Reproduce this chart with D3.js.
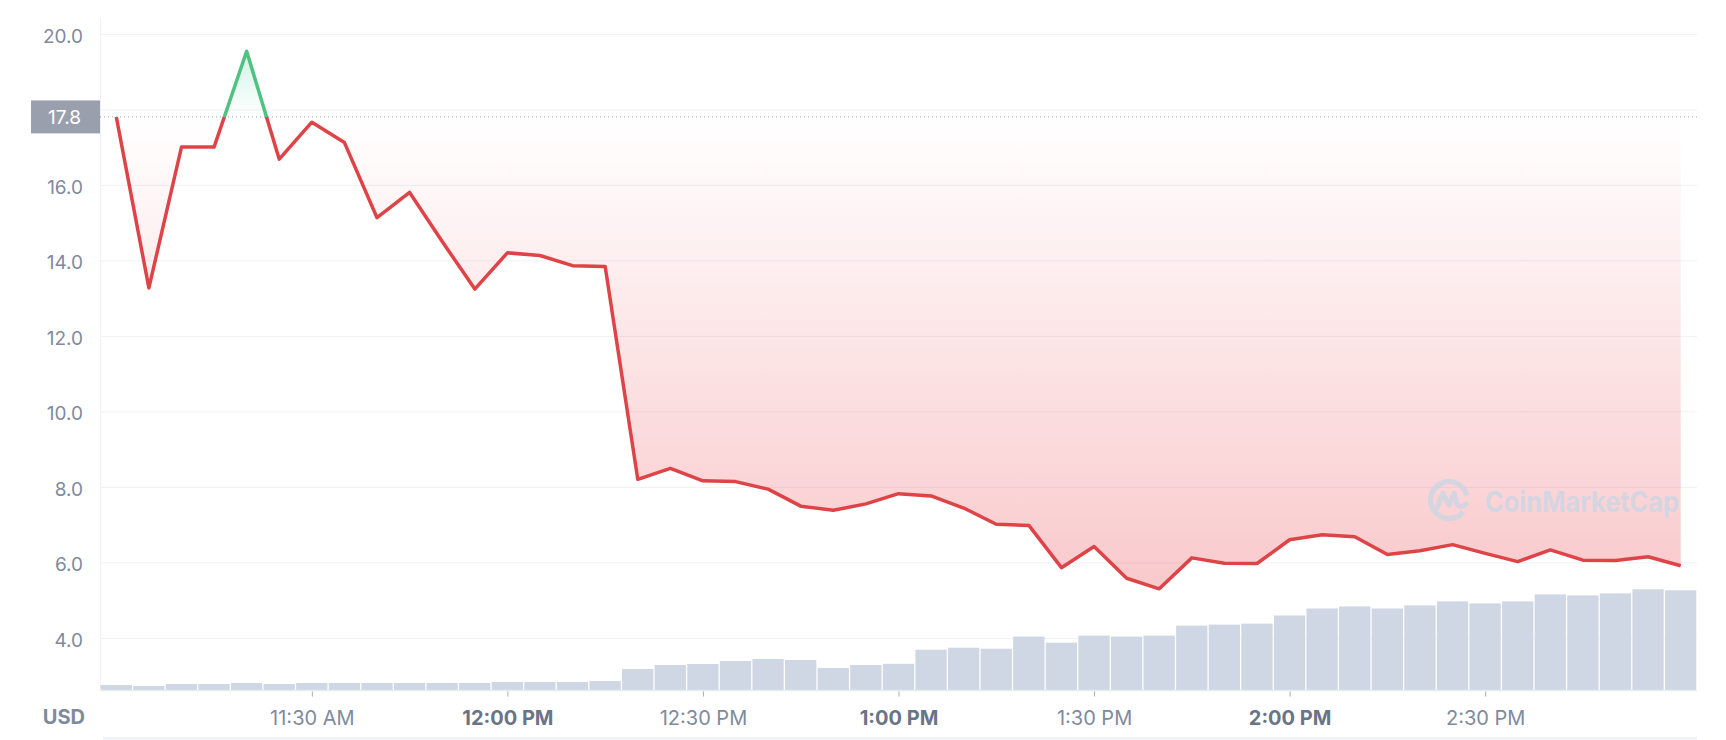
<!DOCTYPE html>
<html>
<head>
<meta charset="utf-8">
<script src="https://cdn.jsdelivr.net/npm/d3@7"></script>
<style>
  html, body { margin: 0; padding: 0; background: #ffffff; }
  svg { display: block; font-family: Inter, "Noto Sans", sans-serif; }
</style>
</head>
<body>
<svg id="chart" width="1726" height="740"></svg>
<script>
// ---------- DATA ----------
const times = ["11:00","11:05","11:10","11:15","11:20","11:25","11:30","11:35","11:40","11:45",
  "11:50","11:55","12:00","12:05","12:10","12:15","12:20","12:25","12:30","12:35",
  "12:40","12:45","12:50","12:55","13:00","13:05","13:10","13:15","13:20","13:25",
  "13:30","13:35","13:40","13:45","13:50","13:55","14:00","14:05","14:10","14:15",
  "14:20","14:25","14:30","14:35","14:40","14:45","14:50","14:55","15:00"];
const prices = [17.8, 13.27, 17.0, 17.0, 19.54, 16.68, 17.66, 17.12, 15.13, 15.80,
  14.5, 13.24, 14.20, 14.13, 13.86, 13.84, 8.20, 8.49, 8.16, 8.14,
  7.94, 7.49, 7.38, 7.55, 7.82, 7.76, 7.44, 7.01, 6.98, 5.86,
  6.42, 5.58, 5.30, 6.12, 5.98, 5.97, 6.60, 6.73, 6.68, 6.21,
  6.31, 6.47, 6.24, 6.02, 6.33, 6.06, 6.05, 6.15, 5.91];
const volumes = [5, 4, 6, 6, 7, 6, 7, 7, 7, 7,
  7, 7, 8, 8, 8, 9, 21, 25, 26, 29,
  31, 30, 22, 25, 26.2, 40.3, 42.3, 41.3, 53.4, 47.3,
  54.4, 53.4, 54.4, 64.4, 65.4, 66.4, 74.5, 81.5, 83.6, 81.5,
  84.6, 88.6, 86.6, 88.6, 95.6, 94.6, 96.6, 100.7, 99.7];
const baselinePrice = 17.8;
const yGridValues = [4, 6, 8, 10, 12, 14, 16, 18, 20];
const yLabelValues = [4, 6, 8, 10, 12, 14, 16, 20];   // 18.0 is covered by the baseline tag
const xTickTimes = ["11:30","12:00","12:30","13:00","13:30","14:00","14:30"];
const xTickLabels = ["11:30 AM","12:00 PM","12:30 PM","1:00 PM","1:30 PM","2:00 PM","2:30 PM"];
const xTickBold = [false, true, false, true, false, true, false];
const currencyLabel = "USD";
const watermarkText = "CoinMarketCap";

// ---------- LAYOUT ----------
const plotLeft = 100, plotRight = 1697, plotTop = 18, plotBottom = 690;
const parseT = d3.timeParse("%H:%M");
const data = times.map((t, i) => ({ t: parseT(t), p: prices[i], v: volumes[i] }));

const x = d3.scaleTime()
  .domain([d3.timeSecond.offset(parseT("11:00"), -150), d3.timeSecond.offset(parseT("15:00"), 150)])
  .range([plotLeft, plotRight]);
const y = d3.scaleLinear().domain([2.62, 20.42]).range([plotBottom, plotTop]);
const yVol = d3.scaleLinear().domain([0, 100]).range([plotBottom, plotBottom - 100]);

const svg = d3.select("#chart");
const defs = svg.append("defs");
const yBase = y(baselinePrice);

// gradients
const gRed = defs.append("linearGradient").attr("id", "gRed")
  .attr("gradientUnits", "userSpaceOnUse").attr("x1", 0).attr("x2", 0)
  .attr("y1", yBase).attr("y2", plotBottom);
gRed.append("stop").attr("offset", 0).attr("stop-color", "#ea3943").attr("stop-opacity", 0.0);
gRed.append("stop").attr("offset", 1).attr("stop-color", "#ea3943").attr("stop-opacity", 0.33);

const gGreen = defs.append("linearGradient").attr("id", "gGreen")
  .attr("gradientUnits", "userSpaceOnUse").attr("x1", 0).attr("x2", 0)
  .attr("y1", yBase).attr("y2", plotTop);
gGreen.append("stop").attr("offset", 0).attr("stop-color", "#16c784").attr("stop-opacity", 0.0);
gGreen.append("stop").attr("offset", 1).attr("stop-color", "#16c784").attr("stop-opacity", 0.3);

defs.append("clipPath").attr("id", "clipAbove").append("rect")
  .attr("x", 0).attr("y", 0).attr("width", 1726).attr("height", yBase);
defs.append("clipPath").attr("id", "clipBelow").append("rect")
  .attr("x", 0).attr("y", yBase).attr("width", 1726).attr("height", 740 - yBase);

// ---------- Y GRID + LABELS ----------
const yGrid = d3.axisLeft(y).tickValues(yGridValues).tickFormat("")
  .tickSize(-(plotRight - plotLeft));
const gg = svg.append("g").attr("transform", `translate(${plotLeft},0)`).call(yGrid);
gg.select(".domain").remove();
gg.selectAll(".tick line").attr("stroke", "#eff1f5").attr("stroke-width", 1);

const yAxis = d3.axisLeft(y).tickValues(yLabelValues).tickFormat(d3.format(".1f"))
  .tickSize(0).tickPadding(17);
const gy = svg.append("g").attr("transform", `translate(${plotLeft},0)`).call(yAxis);
gy.select(".domain").remove();
gy.selectAll(".tick text").attr("fill", "#808a9d").attr("font-size", 19)
  .attr("font-family", "Inter, sans-serif").attr("dy", "0.45em");

// left axis line
svg.append("line").attr("x1", plotLeft + 0.5).attr("x2", plotLeft + 0.5)
  .attr("y1", plotTop).attr("y2", plotBottom).attr("stroke", "#eef0f4");

// ---------- VOLUME BARS ----------
const step = x(parseT("11:05")) - x(parseT("11:00"));
svg.append("g").selectAll("rect").data(data).join("rect")
  .attr("x", d => x(d.t) - step / 2 + 0.6)
  .attr("width", step - 1.3)
  .attr("y", d => yVol(d.v))
  .attr("height", d => yVol(0) - yVol(d.v))
  .attr("fill", "#cfd6e4");

// ---------- AREA + LINE ----------
const area = d3.area().x(d => x(d.t)).y0(yBase).y1(d => y(d.p));
const line = d3.line().x(d => x(d.t)).y(d => y(d.p));

svg.append("path").datum(data).attr("d", area).attr("fill", "url(#gRed)").attr("clip-path", "url(#clipBelow)");
svg.append("path").datum(data).attr("d", area).attr("fill", "url(#gGreen)").attr("clip-path", "url(#clipAbove)");

// ---------- WATERMARK ----------
const wm = svg.append("g").attr("opacity", 0.85);
const cx = 1449, cy = 500, r = 18.5;
wm.append("path")
  .attr("d", d3.arc()({ innerRadius: r - 2.6, outerRadius: r + 2.6, startAngle: Math.PI * 0.72, endAngle: Math.PI * 2.42 }))
  .attr("transform", `translate(${cx},${cy})`)
  .attr("fill", "#cfd6e4");
wm.append("path")
  .attr("d", `M${cx - 12},${cy + 8} L${cx - 6},${cy - 7} L${cx},${cy + 5} L${cx + 5},${cy - 7} L${cx + 8},${cy + 4} Q${cx + 11},${cy + 9} ${cx + 17},${cy + 4}`)
  .attr("fill", "none").attr("stroke", "#cfd6e4").attr("stroke-width", 5)
  .attr("stroke-linejoin", "round").attr("stroke-linecap", "round");
wm.append("text").attr("x", 1485).attr("y", 512)
  .attr("font-size", 28).attr("font-weight", 700).attr("fill", "#cfd6e4")
  .attr("textLength", 194).attr("lengthAdjust", "spacingAndGlyphs")
  .text(watermarkText);

// lines on top
svg.append("path").datum(data).attr("d", line).attr("fill", "none")
  .attr("stroke", "#de4447").attr("stroke-width", 3.5).attr("stroke-linejoin", "round")
  .attr("clip-path", "url(#clipBelow)");
svg.append("path").datum(data).attr("d", line).attr("fill", "none")
  .attr("stroke", "#4fc281").attr("stroke-width", 3.5).attr("stroke-linejoin", "round")
  .attr("clip-path", "url(#clipAbove)");

// ---------- BASELINE ----------
svg.append("line").attr("x1", plotLeft).attr("x2", plotRight)
  .attr("y1", yBase).attr("y2", yBase)
  .attr("stroke", "#9aa0ad").attr("stroke-width", 1).attr("stroke-dasharray", "1,3");
svg.append("rect").attr("x", 31).attr("y", yBase - 16.5).attr("width", 69).attr("height", 33)
  .attr("fill", "#9a9fad");
svg.append("text").attr("x", 81).attr("y", yBase).attr("dy", "0.36em")
  .attr("text-anchor", "end").attr("fill", "#ffffff").attr("font-size", 19)
  .text(d3.format(".1f")(baselinePrice));

// ---------- X AXIS ----------
const xAxis = d3.axisBottom(x).tickValues(xTickTimes.map(parseT))
  .tickFormat((d, i) => xTickLabels[i]).tickSize(6).tickPadding(14);
const gx = svg.append("g").attr("transform", `translate(0,${plotBottom + 0.5})`).call(xAxis);
gx.select(".domain").attr("stroke", "#e9ecf1").attr("stroke-width", 1.5)
  .attr("d", `M${plotLeft},0H${plotRight}`);
gx.selectAll(".tick line").attr("stroke", "#a7adbb").attr("y1", 1);
gx.selectAll(".tick text")
  .attr("font-size", 20).attr("font-family", "Inter, sans-serif")
  .attr("font-weight", (d, i) => xTickBold[i] ? 700 : 400)
  .attr("fill", (d, i) => xTickBold[i] ? "#6a7487" : "#808a9d");

svg.append("text").attr("x", 85).attr("y", 724).attr("text-anchor", "end")
  .attr("font-size", 20).attr("font-weight", 700).attr("fill", "#808a9d")
  .text(currencyLabel);

// navigator strip top
svg.append("rect").attr("x", 103).attr("y", 737).attr("width", plotRight - 103).attr("height", 3)
  .attr("fill", "#f3f4fb");
</script>
</body>
</html>
